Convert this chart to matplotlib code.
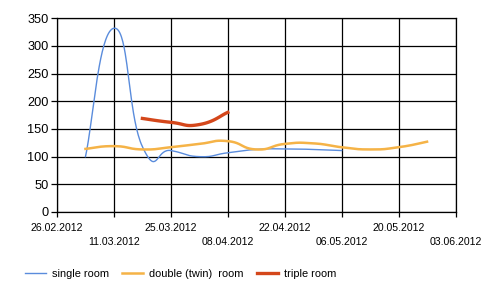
import numpy as np
import pandas as pd
import matplotlib
matplotlib.use('Agg')
import matplotlib.pyplot as plt
import matplotlib.dates as mdates

# weekly prices per room type
week_dates = ['04.03.2012', '11.03.2012', '18.03.2012', '25.03.2012', '01.04.2012',
              '08.04.2012', '15.04.2012', '22.04.2012', '29.04.2012', '06.05.2012',
              '13.05.2012', '20.05.2012', '27.05.2012']
single_room = [100, 332, 118, 111, 100, 107, 113, 114, 113, 111]
double_room = [114, 119, 113, 117, 123, 128, 113, 123, 124, 117, 113, 117, 127]
triple_dates = ['18.03.2012', '25.03.2012', '01.04.2012', '08.04.2012']
triple_room = [169, 162, 158, 180]

tick_dates = ['26.02.2012', '11.03.2012', '25.03.2012', '08.04.2012',
              '22.04.2012', '06.05.2012', '20.05.2012', '03.06.2012']
y_ticks = [0, 50, 100, 150, 200, 250, 300, 350]


def to_num(dates):
    return mdates.date2num(pd.to_datetime(dates, format='%d.%m.%Y'))


def spline(x, y, tension=0.8, n=40):
    """cardinal spline like the gdi+ curve"""
    p = np.column_stack([x, y]).astype(float)
    out = [p[:1]]
    k = tension / 3.0
    for i in range(len(p) - 1):
        prev = p[i - 1] if i > 0 else p[i]
        nxt = p[i + 2] if i + 2 < len(p) else p[i + 1]
        c1 = p[i] + k * (p[i + 1] - prev)
        c2 = p[i + 1] - k * (nxt - p[i])
        t = np.linspace(0, 1, n)[1:, None]
        seg = ((1 - t) ** 3 * p[i] + 3 * (1 - t) ** 2 * t * c1
               + 3 * (1 - t) * t ** 2 * c2 + t ** 3 * p[i + 1])
        out.append(seg)
    pts = np.vstack(out)
    return pts[:, 0], pts[:, 1]


plt.rcParams['font.family'] = ['Liberation Sans', 'DejaVu Sans']

fig = plt.figure(figsize=(5.0, 2.96), dpi=100)
ax = fig.add_axes([0.114, 0.2838, 0.797, 0.6545])

wx = to_num(week_dates)
sx, sy = spline(wx[:len(single_room)], single_room)
ax.plot(sx, sy, color='#5A8CDC', lw=1.0, label='single room', zorder=3)
dx, dy = spline(wx, double_room)
ax.plot(dx, dy, color='#F5B347', lw=1.8, label='double (twin)  room', zorder=3)
tx, ty = spline(to_num(triple_dates), triple_room)
ax.plot(tx, ty, color='#D4471B', lw=2.4, label='triple room', zorder=3)

ticks = to_num(tick_dates)
ax.set_xlim(ticks[0], ticks[-1])
ax.set_ylim(0, 350)
ax.set_yticks(y_ticks)
ax.set_xticks(ticks[::2])
ax.set_xticks(ticks[1::2], minor=True)
ax.set_xticklabels(tick_dates[::2])
ax.set_xticklabels(tick_dates[1::2], minor=True)

ax.grid(True, which='both', color='black', lw=0.9)
for s in ax.spines.values():
    s.set_color('black')
    s.set_linewidth(0.9)

ax.tick_params(axis='y', length=4, width=0.9, pad=2, labelsize=9.2, colors='black')
ax.tick_params(axis='x', which='major', length=3.3, width=0.9, pad=4.5, labelsize=7.6)
ax.tick_params(axis='x', which='minor', length=3.3, width=0.9, pad=15, labelsize=7.6)

fig.legend(loc='center left', bbox_to_anchor=(0.05, 1 - 274 / 296), ncol=3,
           frameon=False, fontsize=7.9, handlelength=1.9, handletextpad=0.55,
           columnspacing=1.2, borderpad=0, borderaxespad=0)

fig.savefig('out.png', dpi=100)
